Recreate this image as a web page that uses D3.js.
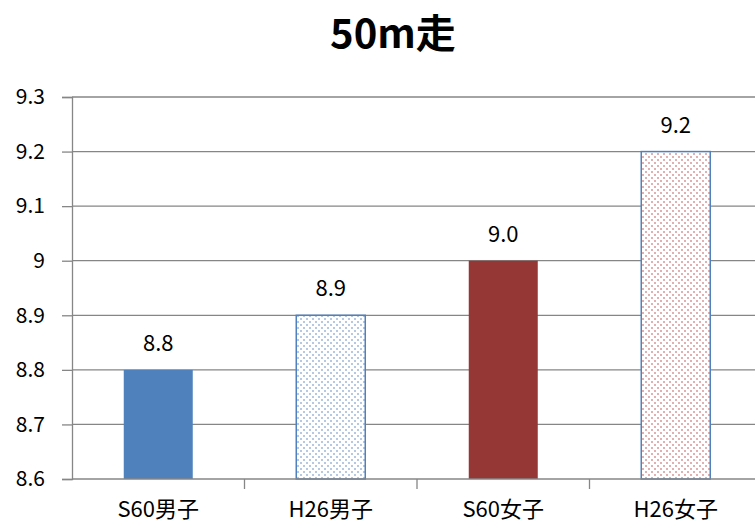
<!DOCTYPE html>
<html>
<head>
<meta charset="utf-8">
<script src="https://cdn.jsdelivr.net/npm/d3@7"></script>
<style>
  body { margin: 0; background: #fff; }
  text { font-family: "Noto Sans CJK JP", "Noto Sans", sans-serif; fill: #000; }
</style>
</head>
<body>
<script>
const categories = ['S60男子', 'H26男子', 'S60女子', 'H26女子'];
const values = [8.8, 8.9, 9.0, 9.2];
const labels = ['8.8', '8.9', '9.0', '9.2'];
const yTicks = [8.6, 8.7, 8.8, 8.9, 9, 9.1, 9.2, 9.3];

const width = 755;
const height = 526;

const svg = d3.select('body')
    .append('svg')
    .attr('width', width)
    .attr('height', height);

const x = d3.scaleBand()
    .domain(categories)
    .range([72, 762])
    .paddingInner(0.6)
    .paddingOuter(0.3);

const y = d3.scaleLinear()
    .domain([8.6, 9.3])
    .range([479, 97]);

// dot patterns for the H26 bars
const defs = svg.append('defs');
const makePattern = (id, color) => {
    const p = defs.append('pattern')
        .attr('id', id)
        .attr('width', 6)
        .attr('height', 6)
        .attr('patternUnits', 'userSpaceOnUse');
    p.append('rect').attr('width', 6).attr('height', 6).attr('fill', '#fff');
    p.append('rect').attr('x', 0).attr('y', 0).attr('width', 2).attr('height', 2)
        .attr('fill', color).attr('opacity', 0.85);
    p.append('rect').attr('x', 3).attr('y', 3).attr('width', 2).attr('height', 2)
        .attr('fill', color).attr('opacity', 0.85);
};
makePattern('dots-blue', '#a9bfdd');
makePattern('dots-red', '#dba3a2');

const fills = ['#4f81bd', 'url(#dots-blue)', '#953735', 'url(#dots-red)'];
const strokes = ['none', '#4f81bd', 'none', '#4f81bd'];

// gridlines
svg.append('g')
    .selectAll('line')
    .data(yTicks.slice(1))
    .join('line')
    .attr('x1', 72)
    .attr('x2', width)
    .attr('y1', d => y(d))
    .attr('y2', d => y(d))
    .attr('stroke', '#868686')
    .attr('stroke-width', 1.3);

// bars
svg.append('g')
    .selectAll('rect')
    .data(values)
    .join('rect')
    .attr('x', (d, i) => x(categories[i]))
    .attr('y', d => y(d))
    .attr('width', x.bandwidth())
    .attr('height', d => y(8.6) - y(d))
    .attr('fill', (d, i) => fills[i])
    .attr('stroke', (d, i) => strokes[i])
    .attr('stroke-width', 1.5);

// y axis
const yAxis = svg.append('g')
    .attr('transform', 'translate(72,0)')
    .call(d3.axisLeft(y).tickValues(yTicks).tickSize(10).tickPadding(17)
        .tickFormat(d => d === 9 ? '9' : d3.format('.1f')(d)));
yAxis.select('.domain').attr('stroke', '#868686').attr('stroke-width', 1.3);
yAxis.selectAll('.tick line').attr('stroke', '#868686').attr('stroke-width', 1.3);
yAxis.selectAll('.tick text').attr('font-size', 21).attr('fill', '#000')
    .attr('font-family', '"Noto Sans CJK JP", sans-serif');

// x axis
const xAxis = svg.append('g')
    .attr('transform', `translate(0,${y(8.6)})`)
    .call(d3.axisBottom(x).tickSize(0).tickPadding(22));
xAxis.select('.domain').attr('stroke', '#868686').attr('stroke-width', 1.3)
    .attr('d', `M72,0H${width}`);
xAxis.selectAll('.tick text').attr('font-size', 22).attr('fill', '#000')
    .attr('font-family', '"Noto Sans CJK JP", sans-serif');

// category separator ticks
const step = x.step();
svg.append('g')
    .selectAll('line')
    .data(categories.slice(1))
    .join('line')
    .attr('x1', d => x(d) - x.paddingInner() * step / 2)
    .attr('x2', d => x(d) - x.paddingInner() * step / 2)
    .attr('y1', y(8.6))
    .attr('y2', y(8.6) + 10)
    .attr('stroke', '#868686')
    .attr('stroke-width', 1.3);

// value labels
svg.append('g')
    .selectAll('text')
    .data(values)
    .join('text')
    .attr('x', (d, i) => x(categories[i]) + x.bandwidth() / 2)
    .attr('y', d => y(d) - 19)
    .attr('text-anchor', 'middle')
    .attr('font-size', 22)
    .text((d, i) => labels[i]);

// title
svg.append('text')
    .attr('x', 393)
    .attr('y', 48)
    .attr('text-anchor', 'middle')
    .attr('font-size', 40)
    .attr('font-weight', 'bold')
    .text('50m走');
</script>
</body>
</html>
